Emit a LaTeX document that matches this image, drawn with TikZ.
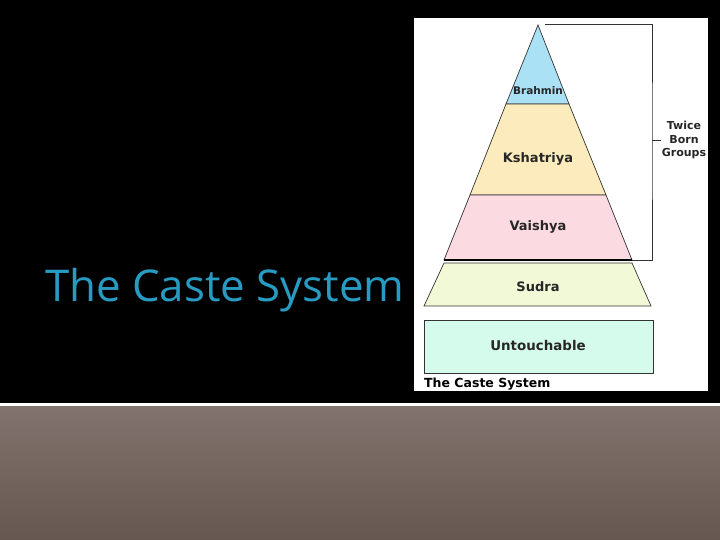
\documentclass[tikz,border=0pt]{standalone}
\usepackage{fontspec}
\setmainfont{DejaVu Sans}
\newfontfamily\titlefont{Open Sans}
\definecolor{brahminblue}{RGB}{170,225,245}
\definecolor{kshatriyatan}{RGB}{252,235,188}
\definecolor{vaishyapink}{RGB}{252,218,226}
\definecolor{sudragreen}{RGB}{242,249,214}
\definecolor{untouchcyan}{RGB}{212,251,236}
\definecolor{titleblue}{RGB}{40,155,195}
\definecolor{browntop}{RGB}{130,115,110}
\definecolor{brownbot}{RGB}{102,87,80}
\tikzset{
  band/.style={draw=black!80, line width=0.7pt},
  caste/.style={font=\bfseries\fontsize{13}{15}\selectfont, text=black!85},
}
\begin{document}
\begin{tikzpicture}[x=1pt,y=1pt]
    \useasboundingbox (0,0) rectangle (720,540);
    % background: black slide, white rule, brown footer
        \fill[black] (0,133) rectangle (720,540);
        \fill[white] (0,133) rectangle (720,137);
        \shade[top color=browntop, bottom color=brownbot] (0,0) rectangle (720,133);
    % the title
        \node[anchor=base west, inner sep=0pt, text=titleblue, font=\titlefont\fontsize{43.8}{50}\selectfont] (title) at (45,238) {The Caste System};
    % white panel of the picture
        \fill[white] (414,149) rectangle (708,522);
    % bands of the pyramid, top to bottom
        \filldraw[band, fill=brahminblue] (538,515) -- (569,436) -- (506,436) -- cycle;
        \filldraw[band, fill=kshatriyatan] (506,436) -- (569,436) -- (606,345) -- (470,345) -- cycle;
        \filldraw[band, fill=vaishyapink] (470,345) -- (606,345) -- (632,280) -- (444,280) -- cycle;
        \filldraw[band, fill=sudragreen] (444,277) -- (632,277) -- (651,234) -- (424,234) -- cycle;
        \filldraw[band, fill=untouchcyan] (424,220) rectangle (653,167);
        \draw[line width=1.2pt] (444,280) -- (632,280);
    % labels of the bands
        \node[caste, font=\bfseries\fontsize{10.5}{12}\selectfont] (brahmin) at (538,449) {Brahmin};
        \node[caste] (kshatriya) at (538,381) {Kshatriya};
        \node[caste] (vaishya) at (538,313) {Vaishya};
        \node[caste] (sudra) at (538,253) {Sudra};
        \node[caste, font=\bfseries\fontsize{13.4}{15}\selectfont] (untouch) at (538,194) {Untouchable};
        \node[anchor=base west, inner sep=0pt, font=\bfseries\fontsize{12.5}{14}\selectfont] (caption) at (424,152) {The Caste System};
    % bracket for the twice born groups
        \coordinate (btop) at (545,516);
        \coordinate (bbot) at (632,280);
        \coordinate (bmid) at (652,400);
        \node[align=center, inner sep=1pt, font=\bfseries\fontsize{11}{13.5}\selectfont, text=black!85] (twice) at (684,400) {Twice\\Born\\Groups};
        \draw[black!80, line width=0.8pt] (btop) -| (bmid) |- (bbot);
        \draw[black!80, line width=0.6pt] (bmid) -- (twice.west);
\end{tikzpicture}
\end{document}
